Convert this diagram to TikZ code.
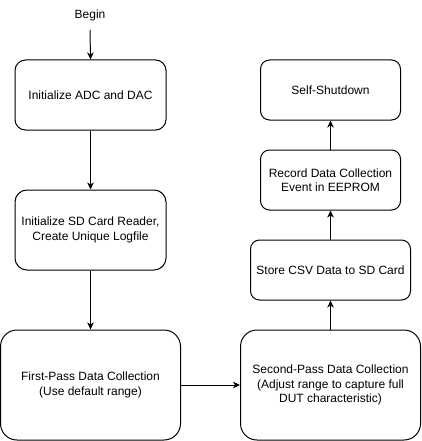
\documentclass[tikz,border=0pt]{standalone}
\usepackage{fontspec}
\setmainfont{Liberation Sans}
\usetikzlibrary{arrows.meta}
\begin{document}
\begin{tikzpicture}[x=1pt,y=-1pt,
  font=\fontsize{12}{14.4}\selectfont,
  box/.style={draw=black,line width=1pt,rectangle,align=center,inner sep=0pt,fill=white},
  arr/.style={line width=1pt,-{Stealth[length=7pt,width=6.5pt,inset=2pt]}}]
\useasboundingbox (0,0) rectangle (421,441);
\node (begin) at (90,15) {Begin};
\coordinate (bstart) at (90,30);
\node[box,minimum width=151pt,minimum height=70pt,rounded corners=10.5pt] (b1) at (90.5,95) {Initialize ADC and DAC};
\node[box,minimum width=151pt,minimum height=80pt,rounded corners=12pt] (b2) at (90.5,230) {Initialize SD Card Reader,\\Create Unique Logfile};
\node[box,minimum width=180pt,minimum height=110pt,rounded corners=16.5pt] (b3) at (90.5,385) {First-Pass Data Collection\\(Use default range)};
\node[box,minimum width=180pt,minimum height=110pt,rounded corners=16.5pt] (b4) at (330.5,385) {Second-Pass Data Collection\\(Adjust range to capture full\\DUT characteristic)};
\node[box,minimum width=160pt,minimum height=60pt,rounded corners=9pt] (b5) at (330.5,270) {Store CSV Data to SD Card};
\node[box,minimum width=140pt,minimum height=60pt,rounded corners=9pt] (b6) at (330.5,180) {Record Data Collection\\Event in EEPROM};
\node[box,minimum width=140pt,minimum height=60pt,rounded corners=9pt] (b7) at (330.5,90) {Self-Shutdown};
\draw[arr] (bstart) -- (b1.north);
\draw[arr] (b1.south) -- (b2.north);
\draw[arr] (b2.south) -- (b3.north);
\draw[arr] (b3.east) -- (b4.west);
\draw[arr] (b4.north) -- (b5.south);
\draw[arr] (b5.north) -- (b6.south);
\draw[arr] (b6.north) -- (b7.south);
\end{tikzpicture}
\end{document}
